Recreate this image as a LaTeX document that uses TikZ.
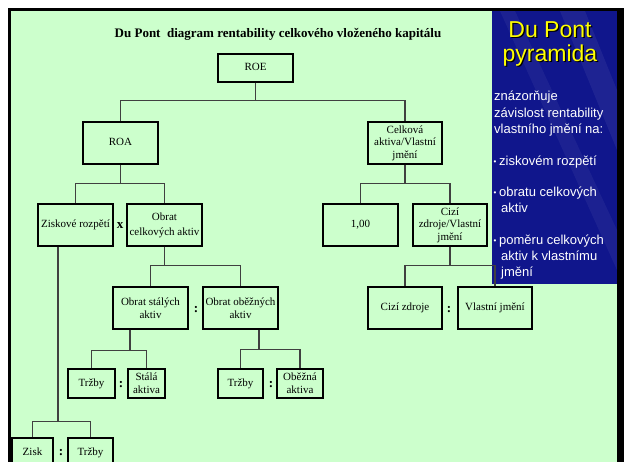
\documentclass[tikz,border=0pt]{standalone}
\usepackage{fontspec}
\setmainfont{Liberation Serif}
\newfontfamily\sidefont{Liberation Sans}
\definecolor{slidegreen}{RGB}{204,255,204}
\definecolor{panelblue}{RGB}{16,22,140}
\definecolor{headyellow}{RGB}{255,255,0}
\begin{document}
\begin{tikzpicture}[x=1pt,y=1pt]
\tikzstyle{every node}+=[inner sep=0pt]
\tikzstyle{box}=[draw=black, line width=1.2pt, fill=slidegreen, align=center, font=\fontsize{11}{13}\selectfont]
\tikzstyle{oneline}=[text height=7.5pt, text depth=2.5pt]
\tikzstyle{link}=[draw=black!75, line width=1.2pt]
\tikzstyle{op}=[font=\fontsize{13}{13}\selectfont\bfseries]
\tikzstyle{side}=[text=white, anchor=base west, font=\sidefont\fontsize{13}{16}\selectfont]
\tikzstyle{head}=[anchor=base, font=\sidefont\fontsize{23}{24}\selectfont]
\useasboundingbox (0,0) rectangle (624,-461);
\clip (0,0) rectangle (624,-461);
\fill [white] (0,0) rectangle (624,-461);
\fill [black] (8,-8) rectangle (624,-470);
\fill [slidegreen] (11,-11) rectangle (617,-470);
\fill [panelblue] (492,-11) rectangle (617,-284);
\begin{scope}
\clip (492,-11) rectangle (617,-284);
\fill [white, opacity=0.06] (560,-11) -- (585,-11) -- (617,-90) -- (617,-150) -- cycle;
\fill [white, opacity=0.05] (500,-11) -- (515,-11) -- (617,-230) -- (617,-270) -- cycle;
\end{scope}
\node [anchor=base, font=\fontsize{13}{14}\selectfont\bfseries] (title) at (278,-37) {Du Pont\ \ diagram rentability celkového vloženého kapitálu};
\node [head, text=black] (shadow1) at (551.2,-38.2) {Du Pont};
\node [head, text=black] (shadow2) at (551.2,-62.2) {pyramida};
\node [head, text=headyellow] (head1) at (550,-37) {Du Pont};
\node [head, text=headyellow] (head2) at (550,-61) {pyramida};
\foreach \x/\y/\t [count=\i] in {494/100/znázorňuje, 494/117/závislost rentability, 494/133/vlastního jmění na:, 499/165/ziskovém rozpětí, 499/196/obratu celkových, 501/212/aktiv, 499/244/poměru celkových, 501/260/aktiv k vlastnímu, 501/276/jmění}
  \node [side] (s\i) at (\x,-\y) {\t};
\foreach \y [count=\i] in {165,196,244}
  \node [side, font=\sidefont\fontsize{8}{8}\selectfont] (b\i) at (493.5,-\y+1) {•};
\node [box, oneline, minimum width=75, minimum height=28] (roe) at (255.5,-68) {ROE};
\node [box, oneline, minimum width=75, minimum height=42] (roa) at (120.5,-143) {ROA};
\node [box, minimum width=74, minimum height=42, font=\fontsize{11}{12.5}\selectfont] (celk) at (405,-143) {Celková\\aktiva/Vlastní\\jmění};
\node [box, oneline, minimum width=75, minimum height=42] (zr) at (75.5,-225) {Ziskové rozpětí};
\node [box, minimum width=75, minimum height=42, font=\fontsize{11}{15}\selectfont] (oca) at (164.5,-225) {Obrat\\celkových aktiv};
\node [box, oneline, minimum width=75, minimum height=42] (one) at (360.5,-225) {1,00};
\node [box, minimum width=74, minimum height=42, font=\fontsize{11}{12.5}\selectfont] (czvj) at (450,-225) {Cizí\\zdroje/Vlastní\\jmění};
\node [box, minimum width=75, minimum height=42] (osa) at (150.5,-308) {Obrat stálých\\aktiv};
\node [box, minimum width=75, minimum height=42] (ooa) at (240.5,-308) {Obrat oběžných\\aktiv};
\node [box, oneline, minimum width=74, minimum height=42] (cz) at (405,-308) {Cizí zdroje};
\node [box, oneline, minimum width=74, minimum height=42] (vj) at (495,-308) {Vlastní jmění};
\node [box, oneline, minimum width=47, minimum height=29] (t1) at (91.5,-383.5) {Tržby};
\node [box, minimum width=37, minimum height=29] (sa) at (146.5,-383.5) {Stálá\\aktiva};
\node [box, oneline, minimum width=45, minimum height=29] (t2) at (240.5,-383.5) {Tržby};
\node [box, minimum width=46, minimum height=29] (oa) at (300,-383.5) {Oběžná\\aktiva};
\node [box, oneline, minimum width=41, minimum height=30] (zisk) at (32.5,-453) {Zisk};
\node [box, oneline, minimum width=45, minimum height=30] (t3) at (90.5,-453) {Tržby};
\node [op] (mul) at (120,-226) {x};
\node [op] (d1) at (196,-310) {:};
\node [op] (d2) at (449,-310) {:};
\node [op] (d3) at (121,-385) {:};
\node [op] (d4) at (271,-385) {:};
\node [op] (d5) at (61,-453) {:};
\draw [link] (roe.south) -- ++(0,-18) -| (roa.north);
\draw [link] (roe.south) -- ++(0,-18) -| (celk.north);
\draw [link] (roa.south) -- ++(0,-19) -| (zr.north);
\draw [link] (roa.south) -- ++(0,-19) -| (oca.north);
\draw [link] (celk.south) -- ++(0,-19) -| (one.north);
\draw [link] (celk.south) -- ++(0,-19) -| (czvj.north);
\draw [link] (oca.south) -- ++(0,-19) -| (osa.north);
\draw [link] (oca.south) -- ++(0,-19) -| (ooa.north);
\draw [link] (czvj.south) -- ++(0,-19) -| (cz.north);
\draw [link] (czvj.south) -- ++(0,-19) -| (vj.north);
\draw [link] ([xshift=-20.5]osa.south) -- ++(0,-21) -| (t1.north);
\draw [link] ([xshift=-20.5]osa.south) -- ++(0,-21) -| (sa.north);
\draw [link] ([xshift=18.5]ooa.south) -- ++(0,-20) -| (t2.north);
\draw [link] ([xshift=18.5]ooa.south) -- ++(0,-20) -| (oa.north);
\draw [link] ([xshift=-17.5]zr.south) -- ++(0,-175) -| (zisk.north);
\draw [link] ([xshift=-17.5]zr.south) -- ++(0,-175) -| (t3.north);
\end{tikzpicture}
\end{document}
